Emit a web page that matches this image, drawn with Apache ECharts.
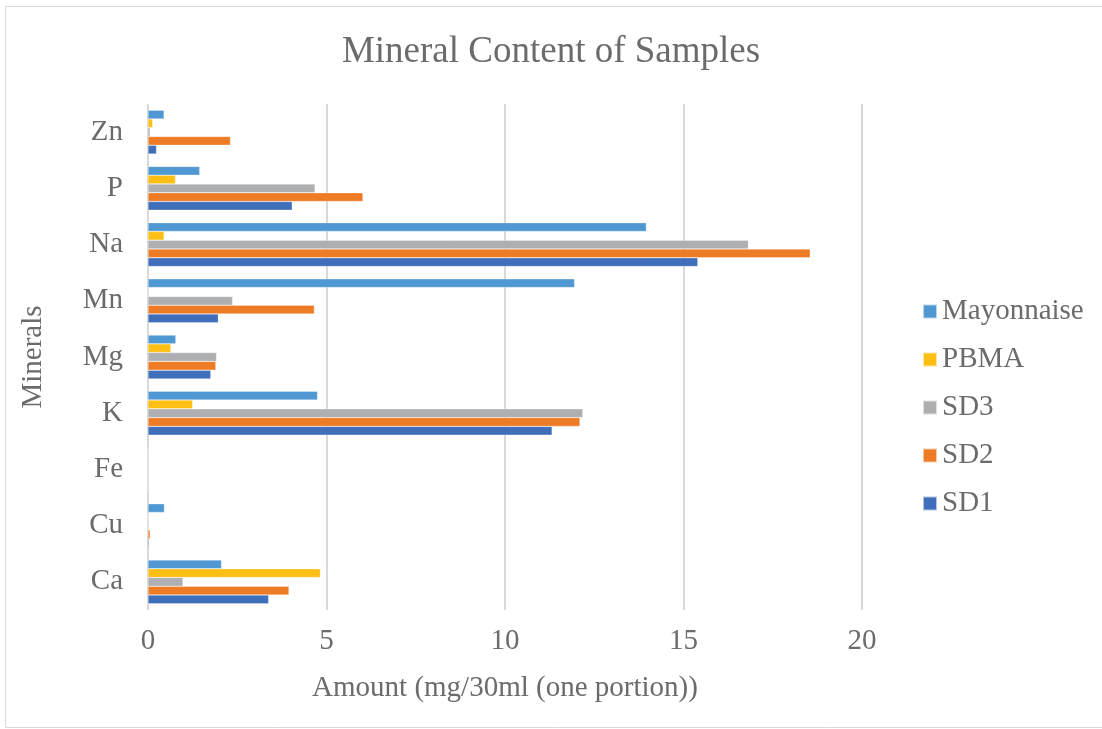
<!DOCTYPE html>
<html>
<head>
<meta charset="utf-8">
<script src="https://cdn.jsdelivr.net/npm/echarts@6/dist/echarts.min.js"></script>
<style>
  html, body { margin: 0; padding: 0; background: #ffffff; }
  #chart { width: 1102px; height: 729px; }
</style>
</head>
<body>
<div id="chart"></div>
<script>
// Minerals, listed bottom to top on the category axis
const minerals = ['Ca', 'Cu', 'Fe', 'K', 'Mg', 'Mn', 'Na', 'P', 'Zn'];

// Amounts in mg per 30 ml portion, one array per sample
const sd1        = [3.38, 0.03, 0, 11.32, 1.76, 1.97, 15.40, 4.04, 0.24];
const sd2        = [3.95, 0.06, 0, 12.10, 1.90, 4.66, 18.55, 6.02, 2.31];
const sd3        = [0.98, 0,    0, 12.18, 1.92, 2.37, 16.82, 4.68, 0.06];
const pbma       = [4.83, 0,    0, 1.25,  0.64, 0,    0.45,  0.77, 0.13];
const mayonnaise = [2.06, 0.46, 0, 4.75,  0.78, 11.95, 13.96, 1.45, 0.45];

const xTicks = { min: 0, max: 20, interval: 5 };

const font = '"Liberation Serif", "DejaVu Serif", serif';
const textColor = '#6b6b6b';

// First series sits at the top of each band
const seriesDefs = [
  { name: 'Mayonnaise', data: mayonnaise, color: '#5098d3' },
  { name: 'PBMA',       data: pbma,       color: '#fdbf14' },
  { name: 'SD3',        data: sd3,        color: '#aeafb2' },
  { name: 'SD2',        data: sd2,        color: '#ee7b26' },
  { name: 'SD1',        data: sd1,        color: '#3f6fba' }
];

const chart = echarts.init(document.getElementById('chart'), null, { renderer: 'canvas' });

chart.setOption({
  animation: false,
  backgroundColor: '#ffffff',
  title: {
    text: 'Mineral Content of Samples',
    left: 'center',
    top: 29,
    textStyle: { fontFamily: font, fontSize: 37, fontWeight: 'normal', color: textColor }
  },
  legend: {
    data: ['Mayonnaise', 'PBMA', 'SD3', 'SD2', 'SD1'],
    orient: 'vertical',
    left: 917,
    top: 292,
    itemWidth: 14,
    itemHeight: 14,
    itemGap: 19,
    icon: 'rect',
    textStyle: { fontFamily: font, fontSize: 29, lineHeight: 29, color: textColor }
  },
  grid: { left: 148, top: 104, width: 714, height: 506, containLabel: false },
  xAxis: {
    type: 'value',
    min: xTicks.min,
    max: xTicks.max,
    interval: xTicks.interval,
    name: 'Amount (mg/30ml (one portion))',
    nameLocation: 'middle',
    nameGap: 64,
    nameTextStyle: { fontFamily: font, fontSize: 29, color: textColor },
    axisLine: { show: false },
    axisTick: { show: false },
    axisLabel: { fontFamily: font, fontSize: 29, color: textColor, margin: 17 },
    splitLine: { show: true, lineStyle: { color: '#d9d9d9', width: 2 } }
  },
  yAxis: {
    type: 'category',
    data: minerals,
    name: 'Minerals',
    nameLocation: 'middle',
    nameGap: 100,
    nameRotate: 90,
    nameTextStyle: { fontFamily: font, fontSize: 29, color: textColor },
    axisLine: { show: false },
    axisTick: { show: false },
    axisLabel: { fontFamily: font, fontSize: 29, color: textColor, margin: 25 },
    splitLine: { show: false }
  },
  series: seriesDefs.map(s => ({
    name: s.name,
    type: 'bar',
    data: s.data,
    barGap: '0%',
    barCategoryGap: '22%',
    itemStyle: { color: s.color, borderColor: 'rgba(255,255,255,0.6)', borderWidth: 0.5 }
  })),
  graphic: [{
    type: 'rect',
    shape: { x: 5.5, y: 6.5, width: 1200, height: 721 },
    style: { fill: 'none', stroke: '#d9d9d9', lineWidth: 1 },
    silent: true
  }]
});
</script>
</body>
</html>
